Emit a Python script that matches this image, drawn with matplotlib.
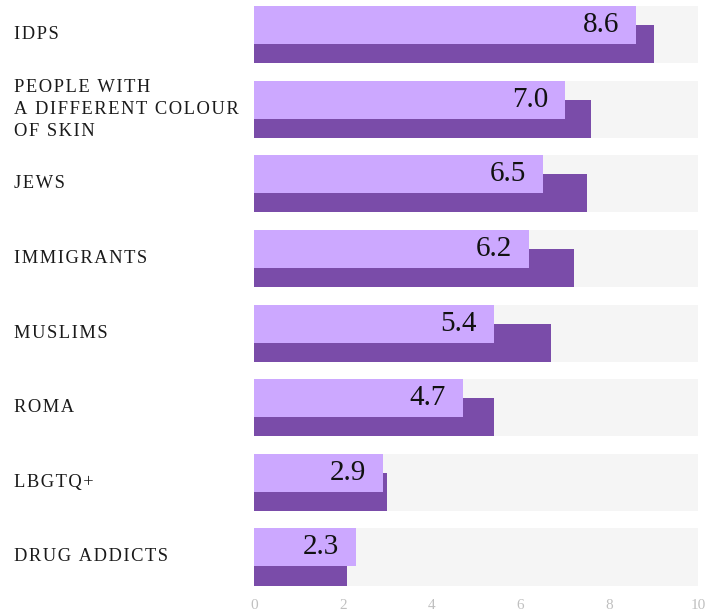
import numpy as np
import matplotlib.pyplot as plt

# Data
categories = ['IDPS', 'PEOPLE WITH\nA DIFFERENT COLOUR\nOF SKIN', 'JEWS', 'IMMIGRANTS',
              'MUSLIMS', 'ROMA', 'LBGTQ+', 'DRUG ADDICTS']
light_values = [8.6, 7.0, 6.5, 6.2, 5.4, 4.7, 2.9, 2.3]
dark_values = [9.0, 7.6, 7.5, 7.2, 6.7, 5.4, 3.0, 2.1]
xticks = [0, 2, 4, 6, 8, 10]

light_color = '#cca8ff'
dark_color = '#7a4ca9'
bg_color = '#f5f5f5'

plt.rcParams['font.family'] = ['Liberation Serif', 'DejaVu Serif']


def spaced(s, sep='\u200a'):
    # add a bit of letter spacing
    return '\n'.join(sep.join(line) for line in s.split('\n'))


fig = plt.figure(figsize=(7.11, 6.13), dpi=100)
ax = fig.add_axes([254 / 711, 1 - 592 / 613, 444 / 711, 590 / 613])

y = np.arange(len(categories))
band = 0.764
sub = band * 2 / 3

ax.barh(y, [10] * len(y), height=band, color=bg_color, zorder=1)
ax.barh(y + band / 2 - sub / 2, dark_values, height=sub, color=dark_color, zorder=2)
ax.barh(y - band / 2 + sub / 2, light_values, height=sub, color=light_color, zorder=3)

for yi, v in zip(y, light_values):
    ax.text(v - 0.38, yi - band / 2 + sub / 2, f'{v:.1f}', ha='right', va='center',
            fontsize=21, color='#111111', zorder=4)

for yi, cat in zip(y, categories):
    ax.text(-240 / 444, yi, spaced(cat), transform=ax.get_yaxis_transform(),
            ha='left', va='center', fontsize=13.3, color='#1a1a1a', linespacing=1.38)

ax.set_xlim(0, 10)
ax.set_ylim(7.469, -0.435)
ax.set_xticks(xticks)
ax.set_xticklabels([str(t) for t in xticks], color='#c0c0c0', fontsize=11)
ax.set_yticks([])
ax.tick_params(axis='x', length=0, pad=5)
for s in ax.spines.values():
    s.set_visible(False)

plt.savefig('out.png', dpi=100)
